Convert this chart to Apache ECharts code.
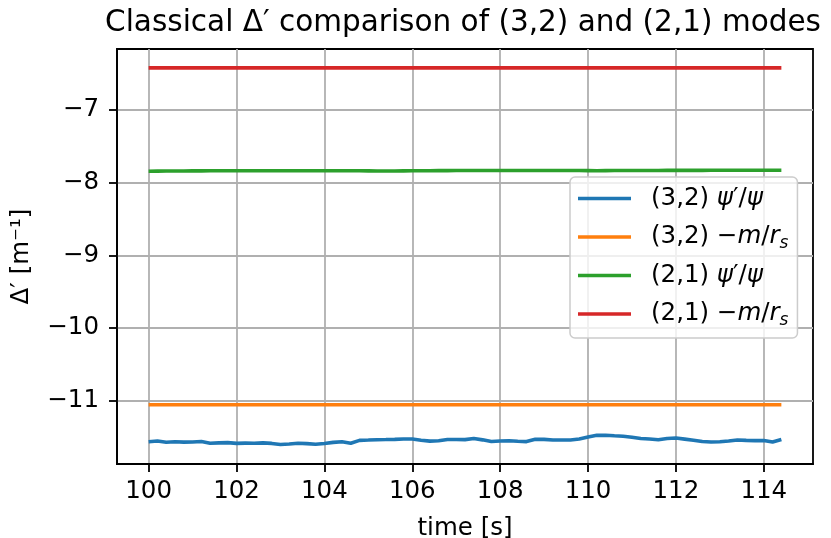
<!DOCTYPE html>
<html>
<head>
<meta charset="utf-8">
<script src="https://cdn.jsdelivr.net/npm/echarts@6/dist/echarts.min.js"></script>
<style>
html,body{margin:0;padding:0;background:#fff;}
#chart{width:831px;height:538px;}
</style>
</head>
<body>
<div id="chart"></div>
<script>
const times = [100.0,100.2,100.4,100.6,100.8,101.0,101.2,101.4,101.6,101.8,
  102.0,102.2,102.4,102.6,102.8,103.0,103.2,103.4,103.6,103.8,
  104.0,104.2,104.4,104.6,104.8,105.0,105.2,105.4,105.6,105.8,
  106.0,106.2,106.4,106.6,106.8,107.0,107.2,107.4,107.6,107.8,
  108.0,108.2,108.4,108.6,108.8,109.0,109.2,109.4,109.6,109.8,
  110.0,110.2,110.4,110.6,110.8,111.0,111.2,111.4,111.6,111.8,
  112.0,112.2,112.4,112.6,112.8,113.0,113.2,113.4,113.6,113.8,
  114.0,114.2,114.4];
const psi32 = [-11.563,-11.553,-11.570,-11.564,-11.568,-11.567,-11.560,-11.583,-11.578,-11.575,
  -11.586,-11.582,-11.583,-11.578,-11.586,-11.600,-11.594,-11.583,-11.589,-11.598,
  -11.586,-11.572,-11.563,-11.583,-11.544,-11.540,-11.535,-11.533,-11.530,-11.526,
  -11.526,-11.542,-11.555,-11.549,-11.533,-11.533,-11.534,-11.519,-11.537,-11.560,
  -11.553,-11.549,-11.556,-11.561,-11.530,-11.530,-11.540,-11.540,-11.538,-11.526,
  -11.499,-11.475,-11.474,-11.481,-11.487,-11.501,-11.518,-11.526,-11.535,-11.518,
  -11.512,-11.527,-11.542,-11.560,-11.566,-11.563,-11.553,-11.538,-11.544,-11.548,
  -11.545,-11.567,-11.531];
const psi21 = [-7.843,-7.842,-7.841,-7.840,-7.840,-7.839,-7.839,-7.838,-7.838,-7.838,
  -7.838,-7.838,-7.837,-7.837,-7.837,-7.837,-7.837,-7.837,-7.837,-7.837,
  -7.837,-7.837,-7.837,-7.837,-7.838,-7.839,-7.840,-7.840,-7.840,-7.839,
  -7.838,-7.837,-7.836,-7.835,-7.835,-7.834,-7.834,-7.834,-7.833,-7.833,
  -7.833,-7.833,-7.833,-7.833,-7.833,-7.833,-7.834,-7.834,-7.834,-7.834,
  -7.835,-7.836,-7.835,-7.834,-7.833,-7.833,-7.833,-7.833,-7.833,-7.832,
  -7.832,-7.832,-7.832,-7.832,-7.831,-7.831,-7.831,-7.831,-7.831,-7.831,
  -7.831,-7.831,-7.831];
const mrTimes = [100.0, 114.4];
const mr32 = [-11.055, -11.055];
const mr21 = [-6.423, -6.423];
const xTicks = [100, 102, 104, 106, 108, 110, 112, 114];
const yTicks = [-11, -10, -9, -8, -7];
const seriesNames = ['(3,2) psi', '(3,2) mr', '(2,1) psi', '(2,1) mr'];

const FONT = 'DejaVu Sans';
const FS = 24.5;
const colors = ['#1f77b4', '#ff7f0e', '#2ca02c', '#d62728'];
const zip = (a, b) => a.map((v, i) => [v, b[i]]);
const legendLabels = {
  '(3,2) psi': '{g|}{n|(3,2) }{i|ψ}{n|′/}{i|ψ}',
  '(3,2) mr': '{g|}{n|(3,2) −}{i|m}{n|/}{i|r}{s|s}',
  '(2,1) psi': '{g|}{n|(2,1) }{i|ψ}{n|′/}{i|ψ}',
  '(2,1) mr': '{g|}{n|(2,1) −}{i|m}{n|/}{i|r}{s|s}'
};

const chart = echarts.init(document.getElementById('chart'), null, {renderer: 'canvas'});
const lineSeries = (name, data, color) => ({
  name, type: 'line', data, showSymbol: false, symbol: 'none', smooth: false,
  lineStyle: {color, width: 3.6}, itemStyle: {color}, animation: false
});
chart.setOption({
  animation: false,
  backgroundColor: '#fff',
  graphic: [{
    type: 'text', x: 463, y: 23,
    style: {text: 'Classical Δ′ comparison of (3,2) and (2,1) modes', font: '29.5px "DejaVu Sans"', fill: '#000', textAlign: 'center', textVerticalAlign: 'middle'}
  }],
  grid: {left: 117, right: 18, top: 49, bottom: 74, outerBoundsMode: 'none', containLabel: false, show: true, borderColor: '#000', borderWidth: 1.8, backgroundColor: 'transparent'},
  legend: {
    orient: 'vertical', left: 570, top: 177,
    data: seriesNames,
    icon: 'rect', itemWidth: 53, itemHeight: 3.6, itemGap: 11,
    padding: [9, 9, 9, 8],
    backgroundColor: 'rgba(255,255,255,0.8)', borderColor: '#cccccc', borderWidth: 1.5, borderRadius: 5,
    formatter: n => legendLabels[n],
    textStyle: {
      fontFamily: FONT, fontSize: FS, color: '#000',
      rich: {
        g: {width: 15, lineHeight: 26},
        n: {fontFamily: FONT, fontSize: FS, color: '#000', lineHeight: 26},
        i: {fontFamily: FONT, fontSize: FS, fontStyle: 'italic', color: '#000', lineHeight: 26},
        s: {fontFamily: FONT, fontSize: 17, fontStyle: 'italic', color: '#000', lineHeight: 26, padding: [13, 0, 0, 0]}
      }
    }
  },
  xAxis: {
    type: 'value', min: 99.28, max: 115.12,
    name: 'time [s]', nameLocation: 'middle', nameGap: 52,
    nameTextStyle: {fontFamily: FONT, fontSize: FS, color: '#000'},
    axisLine: {show: true, onZero: false, lineStyle: {color: '#000', width: 1.8}},
    axisTick: {show: true, length: 8, lineStyle: {color: '#000', width: 1.8}, customValues: xTicks},
    axisLabel: {fontFamily: FONT, fontSize: FS, color: '#000', margin: 15, customValues: xTicks, formatter: v => String(v)},
    splitLine: {show: true, lineStyle: {color: '#b0b0b0', width: 1.8}}
  },
  yAxis: {
    type: 'value', min: -11.869, max: -6.163,
    name: 'Δ′ [m⁻¹]', nameLocation: 'middle', nameGap: 83, nameRotate: 90,
    nameTextStyle: {fontFamily: FONT, fontSize: FS, color: '#000'},
    axisLine: {show: true, onZero: false, lineStyle: {color: '#000', width: 1.8}},
    axisTick: {show: true, length: 8, lineStyle: {color: '#000', width: 1.8}, customValues: yTicks},
    axisLabel: {fontFamily: FONT, fontSize: FS, color: '#000', margin: 18, customValues: yTicks, formatter: v => String(v).replace('-', '−')},
    splitLine: {show: true, lineStyle: {color: '#b0b0b0', width: 1.8}}
  },
  series: [
    lineSeries(seriesNames[0], zip(times, psi32), colors[0]),
    lineSeries(seriesNames[1], zip(mrTimes, mr32), colors[1]),
    lineSeries(seriesNames[2], zip(times, psi21), colors[2]),
    lineSeries(seriesNames[3], zip(mrTimes, mr21), colors[3])
  ]
});
</script>
</body>
</html>
